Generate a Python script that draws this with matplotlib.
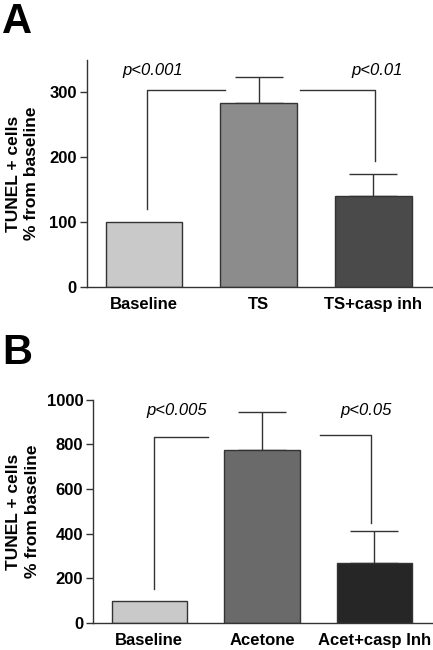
import numpy as np
import matplotlib
matplotlib.use("Agg")
import matplotlib.pyplot as plt

plt.rcParams['font.family'] = ['Liberation Sans', 'DejaVu Sans']

# panel A
cats_a = ["Baseline", "TS", "TS+casp inh"]
vals_a = [100, 283, 140]
err_a = [0, 40, 35]
cols_a = ["#c9c9c9", "#8c8c8c", "#4a4a4a"]

# panel B
cats_b = ["Baseline", "Acetone", "Acet+casp Inh"]
vals_b = [100, 776, 269]
err_b = [0, 167, 143]
cols_b = ["#c9c9c9", "#6a6a6a", "#262626"]


def panel(ax, cats, vals, errs, cols, ymax, yticks, brackets, ptexts):
    x = np.arange(len(cats))
    ax.bar(x, vals, width=0.67, color=cols, edgecolor="#333333", linewidth=1.0, zorder=2)
    for xi, v, e in zip(x, vals, errs):
        if e > 0:
            ax.errorbar(xi, v, yerr=[[0], [e]], fmt="none", ecolor="#333333",
                        elinewidth=1.0, capsize=17, capthick=1.0, zorder=1)
    for bx, by in brackets:
        ax.plot(bx, by, color="#333333", lw=1.0)
    for tx, ty, t in ptexts:
        ax.text(tx, ty, t, ha="center", va="center", style="italic", fontsize=12)
    ax.set_xlim(-0.5, 2.52)
    ax.set_ylim(0, ymax)
    ax.set_yticks(yticks)
    ax.set_xticks(x)
    ax.set_xticklabels(cats, fontsize=12, fontweight="bold")
    ax.tick_params(axis="x", length=0, pad=7)
    ax.tick_params(axis="y", length=5, width=1.0, color="#333333", labelsize=12, pad=2)
    for lab in ax.get_yticklabels():
        lab.set_fontweight("bold")
    for s in ["top", "right"]:
        ax.spines[s].set_visible(False)
    for s in ["left", "bottom"]:
        ax.spines[s].set_color("#333333")
        ax.spines[s].set_linewidth(1.0)
    ax.set_ylabel("TUNEL + cells\n% from baseline", fontsize=12.5, fontweight="bold",
                  linespacing=1.3)


fig = plt.figure(figsize=(4.33, 6.5), dpi=100)

ax1 = fig.add_axes([0.200, 0.558, 0.800, 0.350])
panel(ax1, cats_a, vals_a, err_a, cols_a, 350, [0, 100, 200, 300],
      [([0.03, 0.03, 0.71], [120, 303, 303]), ([1.36, 2.01, 2.01], [304, 304, 195])],
      [(0.08, 333, "p<0.001"), (2.03, 333, "p<0.01")])
ax1.yaxis.set_label_coords(-0.136, 0.5)

ax2 = fig.add_axes([0.215, 0.0415, 0.785, 0.3435])
panel(ax2, cats_b, vals_b, err_b, cols_b, 1000, [0, 200, 400, 600, 800, 1000],
      [([0.04, 0.04, 0.52], [152, 835, 835]), ([1.52, 1.97, 1.97], [840, 840, 448])],
      [(0.24, 950, "p<0.005"), (1.93, 950, "p<0.05")])
ax2.yaxis.set_label_coords(-0.156, 0.5)

fig.text(0.005, 0.997, "A", fontsize=30, fontweight="bold", va="top", ha="left")
fig.text(0.005, 0.487, "B", fontsize=30, fontweight="bold", va="top", ha="left")

fig.savefig("out.png", dpi=100)
